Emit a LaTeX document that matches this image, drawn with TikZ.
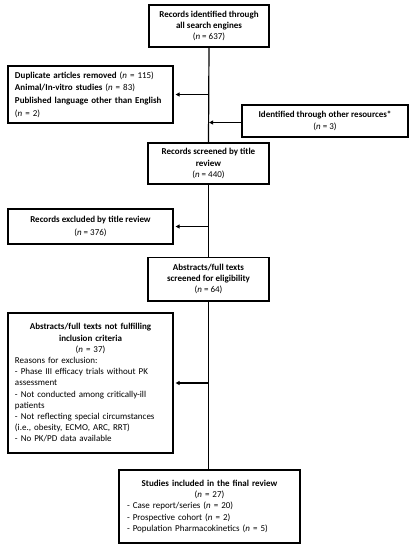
\documentclass[tikz,border=0pt]{standalone}
\usepackage{fontspec}
\setmainfont{Carlito}
\usetikzlibrary{arrows.meta}
\begin{document}
\begin{tikzpicture}[x=1pt,y=-1pt,
  box/.style={draw,line width=1.6pt,inner sep=0pt,outer sep=0pt,
    font=\fontsize{9}{11.2}\selectfont},
  cbox/.style={box,align=center},
  wide/.style={font=\fontsize{9}{12.7}\selectfont},
  link/.style={line width=1.2pt},
  arr/.style={link,-{Triangle[length=4pt,width=3.8pt]}}]
\useasboundingbox (0,0) rectangle (414,550);
\node[cbox,minimum width=120pt,minimum height=42pt] (b1) at (209,26)
  {\textbf{Records identified through}\\\textbf{all search engines}\\(\textit{n} = 637)};
\node[box,wide,minimum width=165pt,minimum height=57pt,text width=151pt] (l1) at (90.5,94.5)
  {\raggedright\textbf{Duplicate articles removed} (\textit{n} = 115)\\
   \textbf{Animal/In-vitro studies} (\textit{n} = 83)\\
   \textbf{Published language other than English}\\
   (\textit{n} = 2)\par};
\node[cbox,wide,minimum width=166pt,minimum height=32pt] (r1) at (325,121)
  {\textbf{Identified through other resources*}\\(\textit{n} = 3)};
\node[cbox,minimum width=121pt,minimum height=41pt] (b2) at (208.5,163.5)
  {\textbf{Records screened by title}\\\textbf{review}\\(\textit{n} = 440)};
\node[cbox,wide,minimum width=165pt,minimum height=35pt] (l2) at (90.5,226.5)
  {\textbf{Records excluded by title review}\\(\textit{n} = 376)};
\node[cbox,minimum width=121pt,minimum height=43.5pt] (b3) at (208.5,279.25)
  {\textbf{Abstracts/full texts}\\\textbf{screened for eligibility}\\(\textit{n} = 64)};
\node[box,minimum width=165pt,minimum height=140pt,text width=151pt] (l3) at (90.5,383)
  {{\centering\textbf{Abstracts/full texts not fulfilling}\\
    \textbf{inclusion criteria}\\(\textit{n} = 37)\par}
   \raggedright Reasons for exclusion:\\
   - Phase III efficacy trials without PK\\
   assessment\\
   - Not conducted among critically-ill\\
   patients\\
   - Not reflecting special circumstances\\
   (i.e., obesity, ECMO, ARC, RRT)\\
   - No PK/PD data available\par};
\node[box,minimum width=181pt,minimum height=73pt,text width=165pt] (fin) at (209.5,506.5)
  {{\centering\textbf{Studies included in the final review}\\(\textit{n} = 27)\par}
   \raggedright - Case report/series (\textit{n} = 20)\\
   - Prospective cohort (\textit{n} = 2)\\
   - Population Pharmacokinetics (\textit{n} = 5)\par};
\draw[link] (b1.south) -- (b2.north);
\draw[link] (b2.south) -- (b3.north);
\draw[link] (b3.south) -- (b3.south |- fin.north);
\draw[arr,shorten >=2.5pt] (b1.south |- l1.east) -- (l1.east);
\draw[arr] ([yshift=-1.5pt]r1.west) -- ([yshift=-1.5pt]r1.west -| b1.south);
\draw[arr,shorten >=2.5pt] (b2.south |- l2.east) -- (l2.east);
\draw[arr,shorten >=2.5pt] (b3.south |- l3.east) -- (l3.east);
\end{tikzpicture}
\end{document}
